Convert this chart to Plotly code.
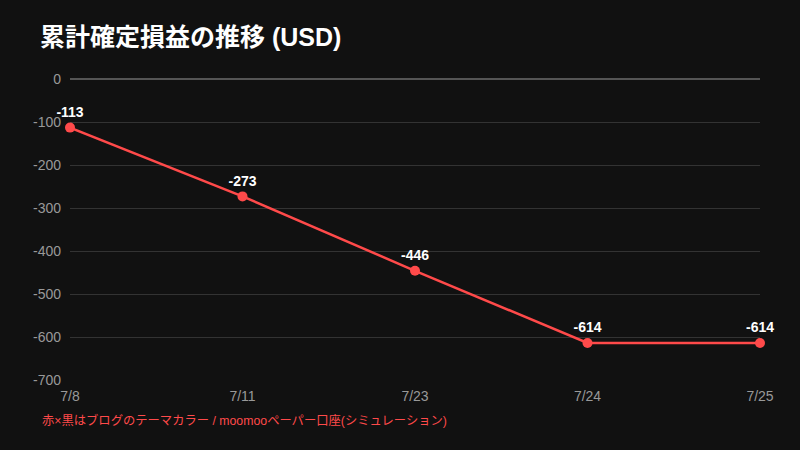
import plotly.graph_objects as go

dates = ["7/8", "7/11", "7/23", "7/24", "7/25"]
values = [-113, -273, -446, -614, -614]
labels = ["-113", "-273", "-446", "-614", "-614"]
y_ticks = [0, -100, -200, -300, -400, -500, -600, -700]

RED = "#ff4a4a"
FONT = "Liberation Sans, Noto Sans CJK JP"

fig = go.Figure()
fig.add_trace(go.Scatter(
    x=list(range(len(dates))), y=values,
    mode="lines+markers+text",
    text=labels, textposition="top center",
    textfont=dict(family=FONT, size=14, color="#ffffff", weight="bold"),
    line=dict(color=RED, width=2.5),
    marker=dict(color=RED, size=10),
    cliponaxis=False, showlegend=False,
))

fig.update_layout(
    width=800, height=450,
    paper_bgcolor="#111111", plot_bgcolor="#111111",
    margin=dict(l=70, r=40, t=79, b=70),
    font=dict(family=FONT, color="#999999"),
    title=dict(text="<b>累計確定損益の推移 (USD)</b>", x=40/800, xref="container", xanchor="left",
               y=1-37/450, yref="container", yanchor="middle",
               font=dict(family=FONT, size=25, color="#ffffff")),
)
fig.update_xaxes(
    tickmode="array", tickvals=list(range(len(dates))), ticktext=dates,
    range=[0, len(dates) - 1], showgrid=False, zeroline=False, showline=False,
    tickfont=dict(family=FONT, size=14, color="#999999"), ticks="", ticklabelstandoff=6,
)
fig.update_yaxes(
    range=[-700, 0], tickvals=y_ticks, ticktext=[str(v) for v in y_ticks],
    showgrid=True, gridcolor="#333333", gridwidth=1,
    zeroline=True, zerolinecolor="#555555", zerolinewidth=2,
    tickfont=dict(family=FONT, size=14, color="#999999"), ticks="", ticklabelstandoff=8,
)
fig.add_annotation(
    text="赤×黒はブログのテーマカラー / moomooペーパー口座(シミュレーション)",
    xref="paper", yref="paper", x=-30/690, y=-40/301, xanchor="left", yanchor="middle",
    showarrow=False, font=dict(family=FONT, size=12.3, color=RED),
)
fig.write_html("out.html")
